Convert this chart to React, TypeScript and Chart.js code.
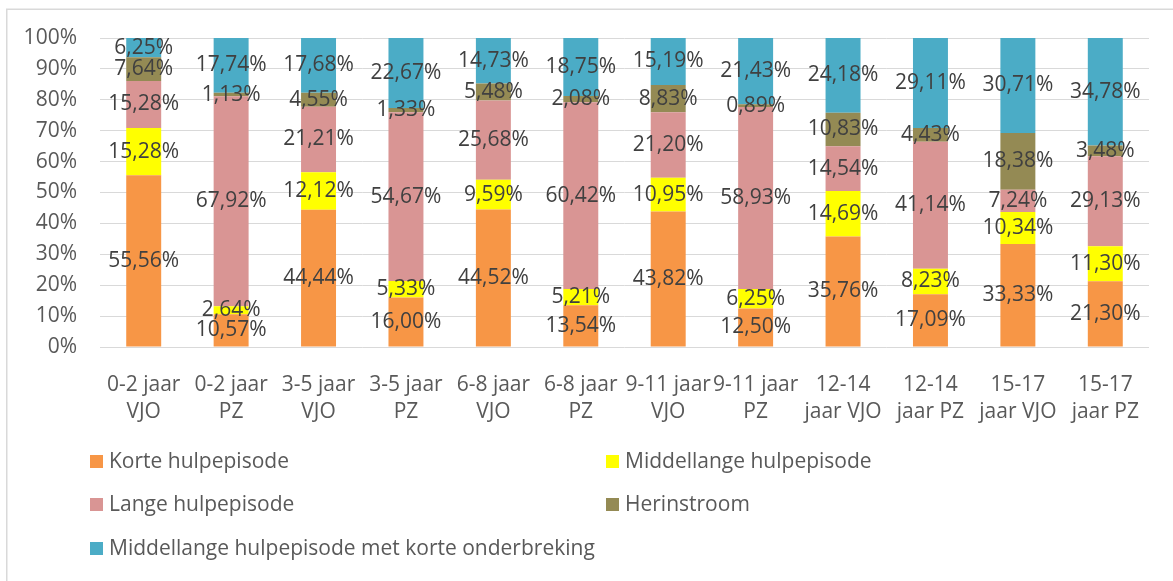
import React, { useEffect, useRef } from "react";
import { Chart, registerables } from "chart.js";

Chart.register(...registerables);

const categories: string[][] = [
  ["0-2 jaar", "VJO"],
  ["0-2 jaar", "PZ"],
  ["3-5 jaar", "VJO"],
  ["3-5 jaar", "PZ"],
  ["6-8 jaar", "VJO"],
  ["6-8 jaar", "PZ"],
  ["9-11 jaar", "VJO"],
  ["9-11 jaar", "PZ"],
  ["12-14", "jaar VJO"],
  ["12-14", "jaar PZ"],
  ["15-17", "jaar VJO"],
  ["15-17", "jaar PZ"],
];

const seriesNames = [
  "Korte hulpepisode",
  "Middellange hulpepisode",
  "Lange hulpepisode",
  "Herinstroom",
  "Middellange hulpepisode met korte onderbreking",
];

const korte = [55.56, 10.57, 44.44, 16.0, 44.52, 13.54, 43.82, 12.5, 35.76, 17.09, 33.33, 21.3];
const middellange = [15.28, 2.64, 12.12, 5.33, 9.59, 5.21, 10.95, 6.25, 14.69, 8.23, 10.34, 11.3];
const lange = [15.28, 67.92, 21.21, 54.67, 25.68, 60.42, 21.2, 58.93, 14.54, 41.14, 7.24, 29.13];
const herinstroom = [7.64, 1.13, 4.55, 1.33, 5.48, 2.08, 8.83, 0.89, 10.83, 4.43, 18.38, 3.48];
const onderbreking = [6.25, 17.74, 17.68, 22.67, 14.73, 18.75, 15.19, 21.43, 24.18, 29.11, 30.71, 34.78];

const yTicks = [0, 10, 20, 30, 40, 50, 60, 70, 80, 90, 100];

const colors = ["#F79646", "#FFFF00", "#D99594", "#948A54", "#4BACC6"];
const seriesValues = [korte, middellange, lange, herinstroom, onderbreking];

const FONT = '"Open Sans", "DejaVu Sans", sans-serif';
const FS = 21;

const fmt = (v: number) => v.toFixed(2).replace(".", ",") + "%";

const labelPlugin = {
  id: "segmentLabels",
  afterDatasetsDraw(chart: any) {
    const ctx = chart.ctx;
    ctx.save();
    ctx.font = `${FS}px ${FONT}`;
    ctx.fillStyle = "#404040";
    ctx.textAlign = "center";
    ctx.textBaseline = "middle";
    chart.data.datasets.forEach((ds: any, di: number) => {
      const meta = chart.getDatasetMeta(di);
      meta.data.forEach((el: any, i: number) => {
        const v = ds.data[i];
        const y = (el.y + el.base) / 2;
        ctx.fillText(fmt(v), el.x, y);
      });
    });
    ctx.restore();
  },
};

const framePlugin = {
  id: "frame",
  beforeDraw(chart: any) {
    const ctx = chart.ctx;
    ctx.save();
    ctx.fillStyle = "#ffffff";
    ctx.fillRect(0, 0, chart.width, chart.height);
    ctx.strokeStyle = "#d9d9d9";
    ctx.lineWidth = 1.5;
    ctx.beginPath();
    ctx.moveTo(6.75, chart.height);
    ctx.lineTo(6.75, 9.25);
    ctx.lineTo(chart.width, 9.25);
    ctx.stroke();
    ctx.restore();
  },
};

const legendPlugin = {
  id: "gridLegend",
  afterDraw(chart: any) {
    const ctx = chart.ctx;
    const colX = [90, 606];
    const rowY = [462, 505, 549];
    ctx.save();
    ctx.font = `${FS}px ${FONT}`;
    ctx.textAlign = "left";
    ctx.textBaseline = "middle";
    chart.data.datasets.forEach((ds: any, i: number) => {
      const x = colX[i % 2];
      const y = rowY[Math.floor(i / 2)];
      ctx.fillStyle = ds.backgroundColor;
      ctx.fillRect(x, y - 7, 13, 13);
      ctx.fillStyle = "#595959";
      ctx.fillText(ds.label, x + 19, y);
    });
    ctx.restore();
  },
};

export default function App() {
  const ref = useRef<HTMLCanvasElement | null>(null);

  useEffect(() => {
    if (!ref.current) return;
    const chart = new Chart(ref.current, {
      type: "bar",
      data: {
        labels: categories,
        datasets: seriesNames.map((name, i) => ({
          label: name,
          data: seriesValues[i],
          backgroundColor: colors[i],
          borderWidth: 0,
          categoryPercentage: 1,
          barPercentage: 0.4,
        })),
      },
      options: {
        animation: false,
        responsive: false,
        maintainAspectRatio: false,
        layout: { padding: { top: 38, right: 24, bottom: 134, left: 0 } },
        plugins: {
          legend: { display: false },
          tooltip: { enabled: false },
        },
        scales: {
          x: {
            stacked: true,
            grid: { display: false },
            border: { display: false },
            ticks: {
              color: "#595959",
              font: { family: FONT, size: FS, lineHeight: 27 / FS },
              padding: 17,
              maxRotation: 0,
              autoSkip: false,
            },
            afterFit(scale: any) {
              scale.height = 100;
            },
          },
          y: {
            stacked: true,
            min: 0,
            max: 100,
            grid: { color: "#d9d9d9", lineWidth: 1, drawTicks: false },
            border: { display: false },
            afterBuildTicks(scale: any) {
              scale.ticks = yTicks.map((v) => ({ value: v }));
            },
            ticks: {
              color: "#595959",
              font: { family: FONT, size: FS },
              padding: 23,
              callback: (v: any) => v + "%",
            },
            afterFit(scale: any) {
              scale.width = 100;
            },
          },
        },
      },
      plugins: [framePlugin, labelPlugin, legendPlugin],
    });
    let alive = true;
    if ((document as any).fonts && (document as any).fonts.load) {
      (document as any).fonts.load(`${FS}px "Open Sans"`).then(() => {
        if (alive) chart.update();
      });
    }
    return () => {
      alive = false;
      chart.destroy();
    };
  }, []);

  return (
    <div style={{ position: "fixed", left: 0, top: 0, width: 1173, height: 581, background: "#fff" }}>
      <canvas ref={ref} width={1173} height={581} style={{ width: 1173, height: 581 }} />
    </div>
  );
}
